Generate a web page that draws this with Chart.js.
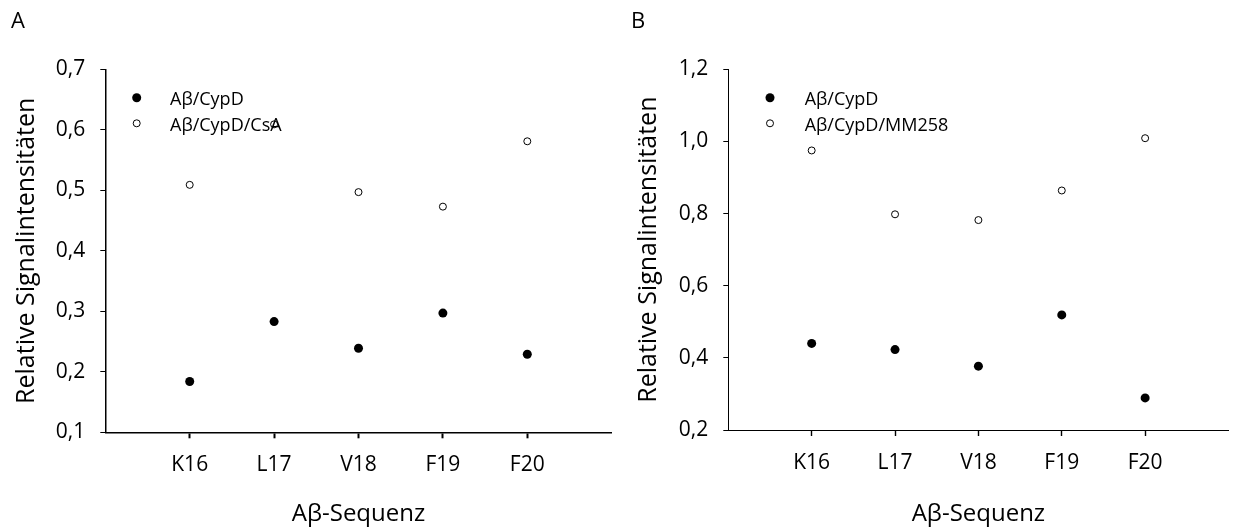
<!DOCTYPE html>
<html>
<head>
<meta charset="utf-8">
<script src="https://cdn.jsdelivr.net/npm/chart.js@4"></script>
<style>
  body { margin: 0; background: #fff; }
  #wrap { position: relative; width: 1233px; height: 531px; }
  .panel { position: absolute; top: 0; height: 531px; }
  .letter { position: absolute; top: 8px; font: 22px "Open Sans"; line-height: 1; color: #000; }
</style>
</head>
<body>
<div id="wrap">
  <div class="panel" style="left:0;width:620px"><canvas id="chartA"></canvas></div>
  <div class="panel" style="left:620px;width:613px"><canvas id="chartB"></canvas></div>
  <div class="letter" style="left:11px">A</div>
  <div class="letter" style="left:631px">B</div>
</div>
<script>
var categories = ["K16", "L17", "V18", "F19", "F20"];
var xTicks = [1, 2, 3, 4, 5];

// panel A
var cypdA = [0.184, 0.283, 0.239, 0.297, 0.229];
var csaA = [0.509, 0.609, 0.497, 0.473, 0.581];
var yTicksA = [0.1, 0.2, 0.3, 0.4, 0.5, 0.6, 0.7];
var labelsA = ["Aβ/CypD", "Aβ/CypD/CsA"];

// panel B
var cypdB = [0.440, 0.423, 0.377, 0.519, 0.289];
var mm258B = [0.975, 0.798, 0.782, 0.864, 1.009];
var yTicksB = [0.2, 0.4, 0.6, 0.8, 1.0, 1.2];
var labelsB = ["Aβ/CypD", "Aβ/CypD/MM258"];

var font = "Open Sans";

// legend drawn inside the plot, marker + text
var pointLegend = {
  id: "pointLegend",
  afterDatasetsDraw: function(chart, args, opts) {
    var ctx = chart.ctx, area = chart.chartArea;
    ctx.save();
    chart.data.datasets.forEach(function(ds, i) {
      var x = area.left + opts.x;
      var y = area.top + opts.y + i * opts.dy;
      ctx.beginPath();
      ctx.arc(x, y, ds.pointRadius, 0, Math.PI * 2);
      ctx.fillStyle = ds.pointBackgroundColor;
      ctx.fill();
      if (ds.pointBorderWidth > 0) {
        ctx.lineWidth = ds.pointBorderWidth;
        ctx.strokeStyle = ds.pointBorderColor;
        ctx.stroke();
      }
      ctx.font = "18px '" + font + "'";
      ctx.fillStyle = "#000";
      ctx.textBaseline = "middle";
      ctx.textAlign = "left";
      ctx.fillText(ds.label, area.left + opts.textX, y + opts.textDy);
    });
    ctx.restore();
  }
};

function points(vals) {
  return categories.map(function(c, i) { return { x: xTicks[i], y: vals[i] }; });
}

function makeChart(id, filled, open, labels, yTicks, lay) {
  return new Chart(document.getElementById(id), {
    type: "scatter",
    data: {
      datasets: [
        {
          label: labels[0],
          data: points(filled),
          pointRadius: 4.5,
          pointHoverRadius: 4.5,
          pointBackgroundColor: "#000",
          pointBorderColor: "#000",
          pointBorderWidth: 0
        },
        {
          label: labels[1],
          data: points(open),
          pointRadius: 3.5,
          pointHoverRadius: 3.5,
          pointBackgroundColor: "#fff",
          pointBorderColor: "#000",
          pointBorderWidth: 1
        }
      ]
    },
    options: {
      responsive: true,
      maintainAspectRatio: false,
      animation: false,
      layout: { padding: { top: 69.3, right: lay.right, bottom: 0, left: 0 } },
      plugins: {
        legend: { display: false },
        tooltip: { enabled: false },
        pointLegend: lay.legend
      },
      scales: {
        x: {
          type: "linear",
          min: 0,
          max: 6,
          afterBuildTicks: function(s) { s.ticks = xTicks.map(function(v) { return { value: v }; }); },
          afterFit: function(s) { s.height = lay.xH; },
          grid: { display: true, drawOnChartArea: false, drawTicks: true, tickLength: 6, tickColor: "#000", tickWidth: lay.tickW },
          border: { display: true, color: "#000", width: lay.axisW },
          ticks: {
            color: "#000",
            font: { family: font, size: 21 },
            padding: 14,
            maxRotation: 0,
            autoSkip: false,
            callback: function(v, i) { return categories[i]; }
          },
          title: {
            display: true,
            text: "Aβ-Sequenz",
            color: "#000",
            font: { family: font, size: 24 },
            padding: { top: 0, bottom: 2 }
          }
        },
        y: {
          min: yTicks[0],
          max: yTicks[yTicks.length - 1],
          afterBuildTicks: function(s) { s.ticks = yTicks.map(function(v) { return { value: v }; }); },
          afterFit: function(s) { s.width = lay.yW; },
          grid: { display: true, drawOnChartArea: false, drawTicks: true, tickLength: 5, tickColor: "#000", tickWidth: 1 },
          border: { display: true, color: "#000", width: lay.axisW },
          ticks: {
            color: "#000",
            font: { family: font, size: 21 },
            padding: 15,
            autoSkip: false,
            callback: function(v) { return v.toFixed(1).replace(".", ","); }
          },
          title: {
            display: true,
            text: "Relative Signalintensitäten",
            color: "#000",
            font: { family: font, size: 25 },
            padding: { top: lay.titlePad, bottom: 0 }
          }
        }
      }
    },
    plugins: [pointLegend]
  });
}

makeChart("chartA", cypdA, csaA, labelsA, yTicksA, {
  right: 8.3, xH: 98.7, yW: 105.3, titlePad: 12, axisW: 1.5, tickW: 2,
  legend: { x: 31.4, y: 28.4, dy: 25.6, textX: 64.7, textDy: 2.5 }
});

makeChart("chartB", cypdB, mm258B, labelsB, yTicksB, {
  right: 0.7, xH: 101, yW: 108.3, titlePad: 14, axisW: 1, tickW: 1.4,
  legend: { x: 41.7, y: 28.4, dy: 25.6, textX: 76.4, textDy: 2.5 }
});
</script>
</body>
</html>
